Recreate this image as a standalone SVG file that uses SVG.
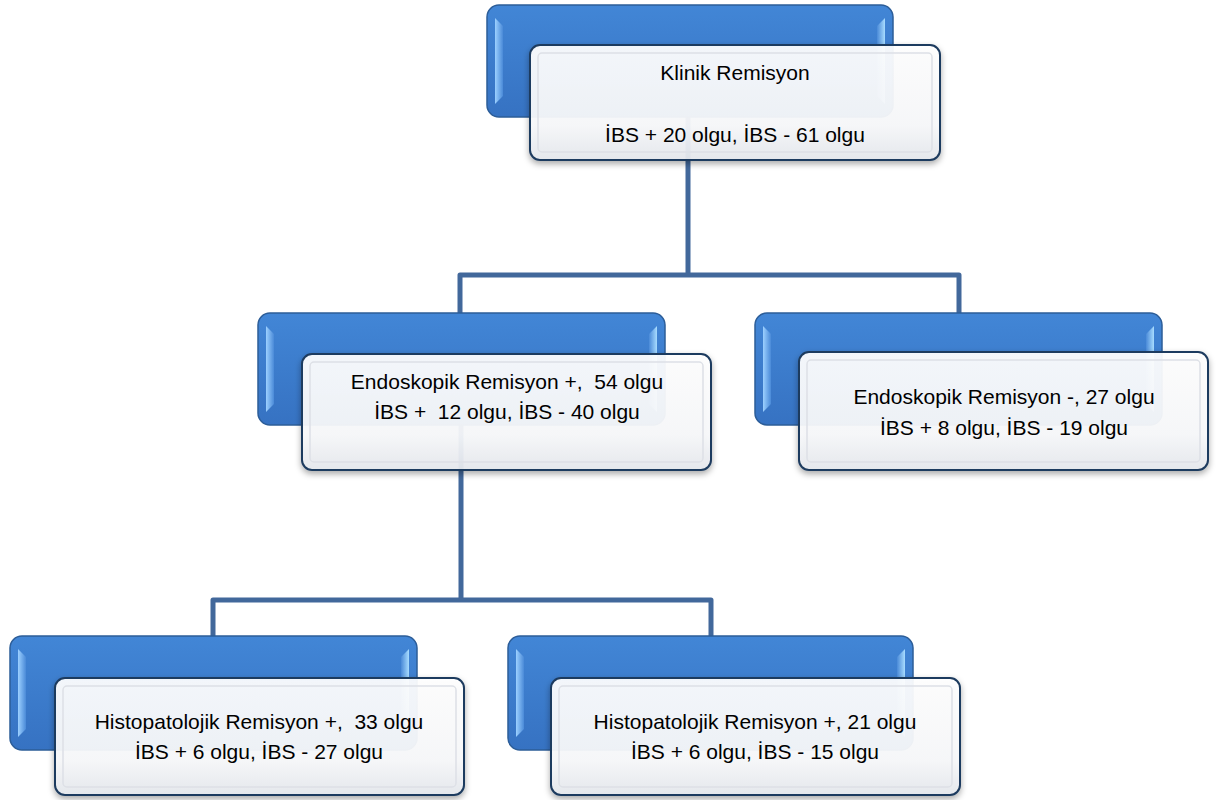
<svg xmlns="http://www.w3.org/2000/svg" width="1221" height="800" viewBox="0 0 1221 800">
<defs>
<linearGradient id="gBlue" x1="0" y1="0" x2="0" y2="1">
<stop offset="0" stop-color="#4286D6"/>
<stop offset="1" stop-color="#3672C2"/>
</linearGradient>
<linearGradient id="gEdgeL" x1="0" y1="0" x2="1" y2="0">
<stop offset="0" stop-color="#9CD0FF"/>
<stop offset="1" stop-color="#4A8AD8"/>
</linearGradient>
<linearGradient id="gEdgeR" x1="0" y1="0" x2="1" y2="0">
<stop offset="0" stop-color="#4A8AD8"/>
<stop offset="1" stop-color="#A8DCFF"/>
</linearGradient>
<linearGradient id="gWhite" x1="0" y1="0" x2="0" y2="1">
<stop offset="0" stop-color="#FFFFFF"/>
<stop offset="0.7" stop-color="#F8F9FB"/>
<stop offset="1" stop-color="#E6E9EE"/>
</linearGradient>
<filter id="sh" x="-10%" y="-10%" width="120%" height="130%">
<feDropShadow dx="0" dy="3" stdDeviation="3" flood-color="#000" flood-opacity="0.35"/>
</filter>
</defs>
<style>
.blue{fill:url(#gBlue);stroke:#2C5D98;stroke-width:1.5}
.el{fill:url(#gEdgeL)}
.er{fill:url(#gEdgeR)}
.white{fill:url(#gWhite);fill-opacity:0.93;stroke:#1E3B5E;stroke-width:2}
.inner{fill:none;stroke:#DDE0E6;stroke-width:1.5}
.conn{fill:none;stroke:#42689B;stroke-width:5;stroke-linejoin:round}
text{font-family:"Liberation Sans",Arial,sans-serif;font-size:21px;fill:#000;text-anchor:middle;white-space:pre}
</style>
<rect width="1221" height="800" fill="#FFFFFF"/>
<g id="connectors">
<path class="conn" d="M688,117 V275 M460,313 V275 H959 V313"/>
<path class="conn" d="M461,425 V600 M213,636 V600 H711 V636"/>
</g>
<g id="n1">
<rect class="blue" x="487" y="5" width="406" height="112" rx="12"/>
<polygon class="el" points="495,18 503,26 503,96 495,104"/>
<polygon class="er" points="885,18 877,26 877,96 885,104"/>
<rect class="white" x="530" y="45" width="410" height="115" rx="10" filter="url(#sh)"/>
<rect class="inner" x="538" y="53" width="394" height="99" rx="4"/>
<text x="735" y="80">Klinik Remisyon</text>
<text x="735" y="142">İBS + 20 olgu, İBS - 61 olgu</text>
</g>
<g id="n2">
<rect class="blue" x="258" y="313" width="407" height="112" rx="12"/>
<polygon class="el" points="266,326 274,334 274,404 266,412"/>
<polygon class="er" points="657,326 649,334 649,404 657,412"/>
<rect class="white" x="302" y="354" width="409" height="116" rx="10" filter="url(#sh)"/>
<rect class="inner" x="310" y="362" width="393" height="100" rx="4"/>
<text x="507" y="389" xml:space="preserve">Endoskopik Remisyon +,  54 olgu</text>
<text x="507" y="419" xml:space="preserve">İBS +  12 olgu, İBS - 40 olgu</text>
</g>
<g id="n3">
<rect class="blue" x="755" y="313" width="407" height="112" rx="12"/>
<polygon class="el" points="763,326 771,334 771,404 763,412"/>
<polygon class="er" points="1154,326 1146,334 1146,404 1154,412"/>
<rect class="white" x="799" y="352" width="409" height="118" rx="10" filter="url(#sh)"/>
<rect class="inner" x="807" y="360" width="393" height="102" rx="4"/>
<text x="1004" y="404">Endoskopik Remisyon -, 27 olgu</text>
<text x="1004" y="435">İBS + 8 olgu, İBS - 19 olgu</text>
</g>
<g id="n4">
<rect class="blue" x="10" y="636" width="407" height="114" rx="12"/>
<polygon class="el" points="18,649 26,657 26,729 18,737"/>
<polygon class="er" points="409,649 401,657 401,729 409,737"/>
<rect class="white" x="55" y="678" width="409" height="117" rx="10" filter="url(#sh)"/>
<rect class="inner" x="63" y="686" width="393" height="101" rx="4"/>
<text x="259" y="729" xml:space="preserve">Histopatolojik Remisyon +,  33 olgu</text>
<text x="259" y="759">İBS + 6 olgu, İBS - 27 olgu</text>
</g>
<g id="n5">
<rect class="blue" x="508" y="636" width="405" height="114" rx="12"/>
<polygon class="el" points="516,649 524,657 524,729 516,737"/>
<polygon class="er" points="905,649 897,657 897,729 905,737"/>
<rect class="white" x="551" y="678" width="409" height="117" rx="10" filter="url(#sh)"/>
<rect class="inner" x="559" y="686" width="393" height="101" rx="4"/>
<text x="755" y="729">Histopatolojik Remisyon +, 21 olgu</text>
<text x="755" y="759">İBS + 6 olgu, İBS - 15 olgu</text>
</g>
</svg>
